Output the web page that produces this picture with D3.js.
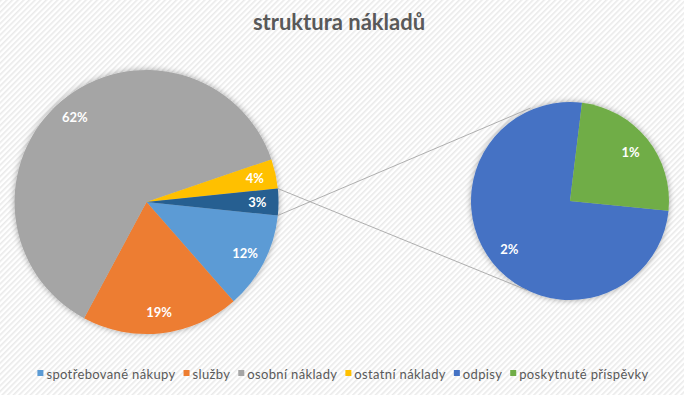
<!DOCTYPE html>
<html><head><meta charset="utf-8">
<script src="https://cdn.jsdelivr.net/npm/d3@7"></script>
<style>html,body{margin:0;padding:0;background:#fff;}svg{display:block;}</style>
</head><body>
<svg id="c" width="684" height="395"></svg>
<script>
// ---- data ----
const categories = ["spotřebované nákupy", "služby", "osobní náklady", "ostatní náklady", "odpisy", "poskytnuté příspěvky"];
const values = [11.9, 19.3, 61.9, 3.6, 2.45, 0.8];
const colors = ["#5B9BD5", "#ED7D31", "#A5A5A5", "#FFC000", "#4472C4", "#70AD47"];
const secondaryCount = 2;   // last two categories go into the secondary pie
const otherColor = "#255E91";
const title = "struktura nákladů";

const svg = d3.select("#c");
const W = 684, H = 395;
const defs = svg.append("defs");
const pat = defs.append("pattern").attr("id", "hatch").attr("patternUnits", "userSpaceOnUse")
  .attr("width", 4).attr("height", 4).attr("patternTransform", "rotate(45)");
pat.append("rect").attr("width", 4).attr("height", 4).attr("fill", "#ffffff");
pat.append("rect").attr("width", 1.6).attr("height", 4).attr("fill", "#eaeaea");
const f = defs.append("filter").attr("id", "sh").attr("x", "-20%").attr("y", "-20%").attr("width", "140%").attr("height", "140%");
f.append("feGaussianBlur").attr("in", "SourceAlpha").attr("stdDeviation", 3).attr("result", "b");
f.append("feComponentTransfer").attr("in", "b").attr("result", "c").append("feFuncA").attr("type", "linear").attr("slope", 0.35);
const fm = f.append("feMerge"); fm.append("feMergeNode").attr("in", "c"); fm.append("feMergeNode").attr("in", "SourceGraphic");

svg.append("rect").attr("width", W).attr("height", H).attr("fill", "url(#hatch)");

const total = d3.sum(values);
const fmt = v => Math.round(v / total * 100) + "%";

// primary data: first categories + "other"
const nPrim = categories.length - secondaryCount;
const otherVal = d3.sum(values.slice(nPrim));
const prim = categories.slice(0, nPrim).map((c, i) => ({name: c, value: values[i], color: colors[i]}));
prim.push({name: "other", value: otherVal, color: otherColor});
const sec = categories.slice(nPrim).map((c, i) => ({name: c, value: values[nPrim + i], color: colors[nPrim + i]}));

const labelFont = "Lato, 'Open Sans', sans-serif";

// main pie
const C1 = [146.5, 202], R1 = 132;
const otherAng = otherVal / total * 2 * Math.PI;
const s1 = Math.PI / 2 + otherAng / 2;
const pie1 = d3.pie().sort(null).value(d => d.value).startAngle(s1).endAngle(s1 + 2 * Math.PI);
const arc1 = d3.arc().innerRadius(0).outerRadius(R1);
const g1 = svg.append("g").attr("transform", `translate(${C1})`);
const a1 = pie1(prim);
g1.append("g").attr("filter", "url(#sh)").selectAll("path").data(a1).join("path")
  .attr("d", arc1).attr("fill", d => d.data.color);
const lab1 = d3.arc().innerRadius(R1 * 0.84).outerRadius(R1 * 0.84);
g1.selectAll("text").data(a1).join("text")
  .attr("transform", d => `translate(${lab1.centroid(d)})`)
  .attr("text-anchor", "middle").attr("dy", "0.36em")
  .attr("fill", "#fff").attr("font-family", labelFont).attr("font-weight", "bold")
  .attr("font-size", 13).text(d => fmt(d.data.value));

// secondary pie
const C2 = [570, 201], R2 = 99;
const s2 = 95.6 * Math.PI / 180;
const pie2 = d3.pie().sort(null).value(d => d.value).startAngle(s2).endAngle(s2 + 2 * Math.PI);
const arc2 = d3.arc().innerRadius(0).outerRadius(R2);
const g2 = svg.append("g").attr("transform", `translate(${C2})`);
const a2 = pie2(sec);
g2.append("g").attr("filter", "url(#sh)").selectAll("path").data(a2).join("path")
  .attr("d", arc2).attr("fill", d => d.data.color);
const lab2 = d3.arc().innerRadius(R2 * 0.785).outerRadius(R2 * 0.785);
g2.selectAll("text").data(a2).join("text")
  .attr("transform", d => `translate(${lab2.centroid(d)})`)
  .attr("text-anchor", "middle").attr("dy", "0.36em")
  .attr("fill", "#fff").attr("font-family", labelFont).attr("font-weight", "bold")
  .attr("font-size", 13).text(d => fmt(d.data.value));

// connector lines
const otherArc = a1[a1.length - 1];
const pt = (c, r, a) => [c[0] + r * Math.sin(a), c[1] - r * Math.cos(a)];
const pTop = pt(C1, R1, otherArc.endAngle);
const pBot = pt(C1, R1, otherArc.startAngle);
const qTop = pt(C2, R2 + 2, -23 * Math.PI / 180);
const qBot = pt(C2, R2, 205.5 * Math.PI / 180);
svg.append("line").attr("x1", pTop[0]).attr("y1", pTop[1]).attr("x2", qTop[0]).attr("y2", qTop[1])
  .attr("stroke", "#a6a6a6").attr("stroke-width", 0.9);
svg.append("line").attr("x1", pBot[0]).attr("y1", pBot[1]).attr("x2", qBot[0]).attr("y2", qBot[1])
  .attr("stroke", "#a6a6a6").attr("stroke-width", 0.9);

// title
svg.append("text").attr("x", 339).attr("y", 30).attr("text-anchor", "middle")
  .attr("font-family", labelFont).attr("font-weight", "bold").attr("font-size", 22)
  .attr("fill", "#595959").text(title);

// legend
const lg = svg.append("g");
const items = lg.selectAll("g").data(categories).join("g");
items.append("rect").attr("width", 6).attr("height", 6).attr("y", 370).attr("fill", (d, i) => colors[i]);
items.append("text").attr("x", 9).attr("y", 378.5).attr("font-family", labelFont)
  .attr("font-size", 13).attr("letter-spacing", 0.35).attr("fill", "#595959").text(d => d);
let x = 0; const pos = [];
items.each(function() {
  const w = d3.select(this).select("text").node().getComputedTextLength();
  pos.push(x); x += 9 + w + 8;
});
const totalW = x - 8;
const x0 = 343 - totalW / 2;
items.attr("transform", (d, i) => `translate(${x0 + pos[i]},0)`);
</script>
</body></html>
